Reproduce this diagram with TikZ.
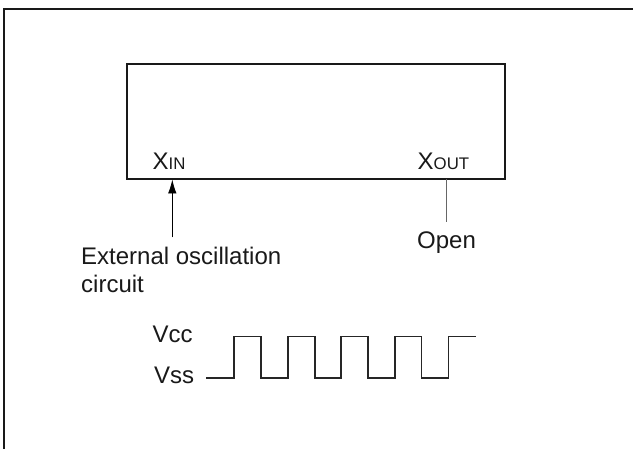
\documentclass[tikz,border=0pt]{standalone}
\usepackage{fontspec}
\setmainfont{Liberation Sans}
\usetikzlibrary{arrows.meta}
\tikzset{
  lbl/.style={inner sep=0pt,font=\fontsize{24pt}{28pt}\selectfont,text=black!90},
  conn/.style={line width=0.8pt,black},
  wave/.style={line width=1.25pt,black!85},
}
\newcommand{\smc}[1]{{\fontsize{16.8pt}{20pt}\selectfont #1}}
\begin{document}
\begin{tikzpicture}[x=1pt,y=-1pt]
\useasboundingbox (0,0) rectangle (633,449);
\draw[line width=2.2pt,black!90] (3.8,449) -- (3.8,9.3) -- (633,9.3);
\node[draw=black!90,line width=1.8pt,inner sep=0pt,anchor=north west,minimum width=378pt,minimum height=115pt] (chip) at (126.3,63.2) {};
\node[lbl,anchor=base west] (xin) at (152.5,170) {X\smc{IN}};
\node[lbl,anchor=base west] (xout) at (417.5,170) {X\smc{OUT}};
\coordinate (aend) at (172.3,179.5);
\coordinate (astart) at (172.3,237.5);
\draw[conn,-{Latex[length=14pt,width=8.5pt]}] (astart) -- (aend);
\coordinate (otop) at (446.7,179);
\coordinate (obot) at (446.7,222.5);
\draw[conn,black!60] (otop) -- (obot);
\node[lbl,anchor=base west] (ext) at (81,265) {External oscillation};
\node[lbl,anchor=base west] (cir) at (81,293) {circuit};
\node[lbl,anchor=base] (open) at (446.5,249) {Open};
\node[lbl,anchor=base west] (vcc) at (152.5,342.7) {Vcc};
\node[lbl,anchor=base west] (vss) at (154,384) {Vss};
\draw[wave] (206,378) -- (234,378) -- (234,336.5) -- (261,336.5) -- (261,378) -- (288,378) -- (288,336.5) -- (315,336.5) -- (315,378) -- (341,378) -- (341,336.5) -- (368,336.5) -- (368,378) -- (395,378) -- (395,336.5) -- (421.7,336.5) -- (421.7,378) -- (448.7,378) -- (448.7,336.5) -- (476,336.5);
\end{tikzpicture}
\end{document}
